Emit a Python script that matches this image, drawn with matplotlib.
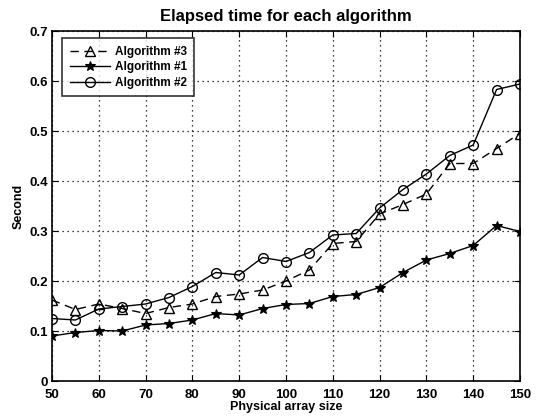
import matplotlib
matplotlib.use("Agg")
import matplotlib.pyplot as plt

plt.rcParams['font.family'] = ['Liberation Sans', 'DejaVu Sans']
plt.rcParams['font.weight'] = 'bold'

sizes = [50, 55, 60, 65, 70, 75, 80, 85, 90, 95, 100, 105, 110, 115, 120,
         125, 130, 135, 140, 145, 150]
alg3 = [0.162, 0.143, 0.154, 0.145, 0.135, 0.147, 0.154, 0.169, 0.174, 0.182, 0.200,
        0.222, 0.275, 0.279, 0.334, 0.353, 0.374, 0.435, 0.435, 0.465, 0.495]
alg1 = [0.090, 0.097, 0.101, 0.100, 0.112, 0.115, 0.122, 0.135, 0.132, 0.145, 0.153,
        0.155, 0.169, 0.173, 0.187, 0.217, 0.242, 0.255, 0.271, 0.311, 0.299]
alg2 = [0.125, 0.122, 0.144, 0.149, 0.154, 0.167, 0.189, 0.217, 0.212, 0.247, 0.239,
        0.257, 0.292, 0.295, 0.346, 0.383, 0.414, 0.451, 0.472, 0.583, 0.594]

xticks = [50, 60, 70, 80, 90, 100, 110, 120, 130, 140, 150]
yticks = [0, 0.1, 0.2, 0.3, 0.4, 0.5, 0.6, 0.7]
ytick_labels = ['0', '0.1', '0.2', '0.3', '0.4', '0.5', '0.6', '0.7']

fig = plt.figure(figsize=(5.37, 4.18), dpi=100)
ax = fig.add_axes([52/537, 1 - 381/418, (520-52)/537, (381-31)/418])

ax.plot(sizes, alg3, color='black', linestyle=(0, (6, 4)), linewidth=1.0,
        marker='^', markersize=7, markerfacecolor='none', markeredgewidth=1.0,
        label='Algorithm #3')
ax.plot(sizes, alg1, color='black', linestyle='-', linewidth=1.0,
        marker='*', markersize=7.5, markeredgewidth=0.8,
        label='Algorithm #1')
ax.plot(sizes, alg2, color='black', linestyle='-', linewidth=1.0,
        marker='o', markersize=7, markerfacecolor='none', markeredgewidth=1.0,
        label='Algorithm #2')

ax.set_xlim(50, 150)
ax.set_ylim(0, 0.7)
ax.set_xticks(xticks)
ax.set_yticks(yticks)
ax.set_yticklabels(ytick_labels)
ax.tick_params(direction='in', length=4, labelsize=9.5, top=True, right=True)
ax.tick_params(axis='x', pad=5.5)
ax.tick_params(axis='y', pad=3)
for lbl in ax.get_xticklabels() + ax.get_yticklabels():
    lbl.set_fontweight('bold')
ax.grid(True, color='black', linestyle=(0, (1, 3)), linewidth=0.9)
for sp in ax.spines.values():
    sp.set_linewidth(1.2)

ax.set_title('Elapsed time for each algorithm', fontsize=12, fontweight='bold', pad=7)
ax.set_xlabel('Physical array size', fontsize=9, fontweight='bold', labelpad=0)
ax.set_ylabel('Second', fontsize=9, fontweight='bold', labelpad=3)

leg = ax.legend(loc='upper left', bbox_to_anchor=(10/468, 1 - 7/350),
                borderaxespad=0, fontsize=8.5, frameon=True, fancybox=False,
                edgecolor='black', handlelength=3.4,
                borderpad=0.65, labelspacing=0.3, handletextpad=0.4)
leg.get_frame().set_linewidth(1.2)
for t in leg.get_texts():
    t.set_fontweight('bold')

fig.savefig('out.png', dpi=100)
